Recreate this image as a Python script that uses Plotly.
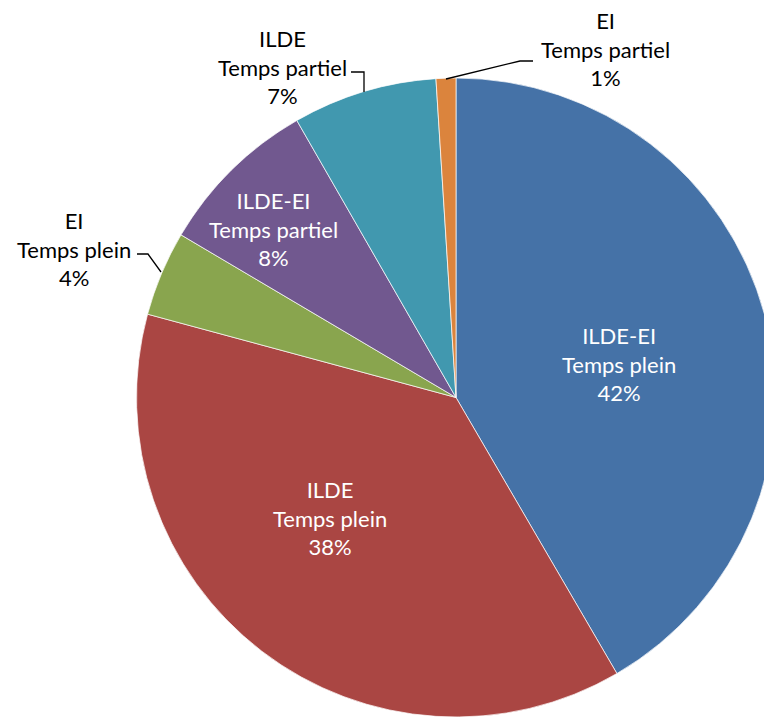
import plotly.graph_objects as go

labels = ["ILDE-EI<br>Temps plein", "ILDE<br>Temps plein", "EI<br>Temps plein",
          "ILDE-EI<br>Temps partiel", "ILDE<br>Temps partiel", "EI<br>Temps partiel"]
values = [41.6, 37.6, 4.3, 8.2, 7.3, 1.0]
colors = ["#4572A7", "#AA4643", "#89A54E", "#71588F", "#4198AF", "#DB843D"]
text_colors = ["white", "white", "black", "white", "black", "black"]
# label centres (pixels) for each slice's data label
label_pos = [(619, 364), (330, 518), (74, 249), (273, 229), (282, 67), (605, 49)]
# leader lines for outside labels (pixels)
leaders = {2: [(137, 254), (148, 254), (161, 272)],
           4: [(351, 72), (364, 72), (364, 92)],
           5: [(533, 61), (520, 61), (446, 79)]}

W, H = 780, 717
def px(x):
    return x / W
def py(y):
    return 1 - y / H

total = sum(values)
fig = go.Figure(go.Pie(
    labels=labels, values=values, sort=False, direction="clockwise", rotation=0,
    marker=dict(colors=colors, line=dict(color="white", width=0.7)),
    textinfo="none", hoverinfo="label+percent",
    domain=dict(x=[136 / W, 776 / W], y=[0, 1 - 78 / H]),
    showlegend=False,
))

annotations = []
for i, (lab, v) in enumerate(zip(labels, values)):
    x, y = label_pos[i]
    annotations.append(dict(
        x=px(x), y=py(y), xref="paper", yref="paper", showarrow=False,
        text=f"{lab}<br>{round(100 * v / total)}%",
        font=dict(family="Lato", size=22, color=text_colors[i]),
        xanchor="center", yanchor="middle", align="center",
    ))

shapes = []
for i, pts in leaders.items():
    path = "M " + " L ".join(f"{px(a)},{py(b)}" for a, b in pts)
    shapes.append(dict(type="path", path=path, xref="paper", yref="paper",
                       line=dict(color="black", width=1.3)))

fig.update_layout(
    width=W, height=H, margin=dict(l=0, r=0, t=0, b=0),
    paper_bgcolor="white", plot_bgcolor="white",
    annotations=annotations, shapes=shapes,
)
fig.write_html("out.html", config={"displayModeBar": False},
               post_script="document.body.style.margin='0';document.body.style.overflow='hidden';")
